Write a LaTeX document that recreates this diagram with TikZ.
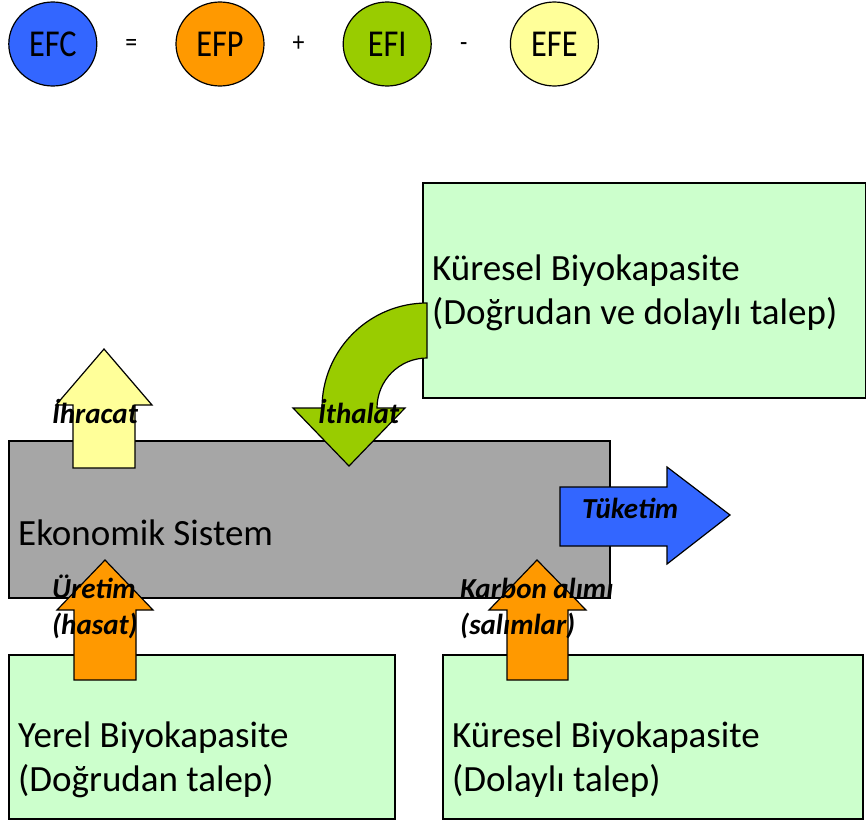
\documentclass[tikz,border=0pt]{standalone}
\usepackage{fontspec}
\setmainfont{Carlito}
\newfontfamily\narrowfont[FakeStretch=0.85]{Carlito}
\usetikzlibrary{shapes.geometric,positioning}
\definecolor{efcblue}{HTML}{3366FF}
\definecolor{efporange}{HTML}{FF9900}
\definecolor{efigreen}{HTML}{99CC00}
\definecolor{efeyellow}{HTML}{FFFF99}
\definecolor{sysgray}{HTML}{A6A6A6}
\definecolor{biogreen}{HTML}{CCFFCC}
\tikzstyle{term} = [
  draw,
  ellipse,
  line width=1.2pt,
  minimum width=88pt,
  minimum height=84pt,
  inner sep=0pt,
  font=\narrowfont\fontsize{38}{40}\selectfont,
]
\tikzstyle{op} = [
  minimum width=78pt,
  inner sep=0pt,
  text height=20pt,
  text depth=6pt,
  font=\narrowfont\fontsize{28}{32}\selectfont,
]
\tikzstyle{area} = [
  draw,
  rectangle,
  line width=1.5pt,
  anchor=north west,
  inner sep=0pt,
]
\tikzstyle{areatext} = [
  anchor=base west,
  align=left,
  inner sep=0pt,
  font=\fontsize{37}{44}\selectfont,
]
\tikzstyle{flow} = [
  draw,
  line width=1.2pt,
  line join=miter,
]
\tikzstyle{flowlabel} = [
  anchor=base west,
  align=left,
  inner sep=0pt,
  font=\fontsize{29}{36}\selectfont\bfseries\itshape,
]

\begin{document}
\begin{tikzpicture}[
    x=1pt,
    y=-1pt,
  ]
  \useasboundingbox (0,0) rectangle (866,822);
  \matrix(eq)[
    ampersand replacement=\&,
    column sep=0pt,
    inner sep=0pt,
    anchor=west,
  ] at (8,44) {
    \node[term, fill=efcblue] (efc){EFC};
    \&
    \node[op] (equals){\hspace*{-10pt}=};
    \&
    \node[term, fill=efporange] (efp){EFP};
    \&
    \node[op] (plus){\hspace*{-10pt}+};
    \&
    \node[term, fill=efigreen] (efi){EFI};
    \&
    \node[op] (minus){\hspace*{-14pt}-};
    \&
    \node[term, fill=efeyellow] (efe){EFE};
    \\
  };

  % areas
  \node[
    area,
    fill=biogreen,
    minimum width=443pt,
    minimum height=215pt,
  ](globalall) at (422,182) {};
  \node[
    area,
    fill=sysgray,
    minimum width=601pt,
    minimum height=157pt,
  ](economy) at (8,440) {};
  \node[
    area,
    fill=biogreen,
    minimum width=386pt,
    minimum height=164pt,
  ](local) at (8,654) {};
  \node[
    area,
    fill=biogreen,
    minimum width=420pt,
    minimum height=164pt,
  ](globalind) at (442,654) {};

  % base of the last line
  \node[areatext] (globalalltext) at (432,324)
    {Küresel Biyokapasite\\(Doğrudan ve dolaylı talep)};
  \node[areatext] (economytext) at (18,545) {Ekonomik Sistem};
  \node[areatext] (localtext) at (18,791)
    {Yerel Biyokapasite\\(Doğrudan talep)};
  \node[areatext] (globalindtext) at (452,791)
    {Küresel Biyokapasite\\(Dolaylı talep)};

  % flows
  \draw[flow, fill=efeyellow] (73,468) -- (73,405) -- (56,405)
    -- (104,349) -- (152,405) -- (135,405) -- (135,468) -- cycle;
  \draw[flow, fill=efigreen] (427,303)
    arc[start angle=270, end angle=180, radius=105]
    -- (293,408) -- (349,466) -- (405,408) -- (377,408)
    arc[start angle=180, end angle=270, radius=50] -- cycle;
  \draw[flow, fill=efcblue] (560,487) -- (667,487) -- (667,467)
    -- (730,515) -- (667,564) -- (667,546) -- (560,546) -- cycle;
  \draw[flow, fill=efporange] (74,680) -- (74,610) -- (57,610)
    -- (105,560) -- (153,610) -- (136,610) -- (136,680) -- cycle;
  \draw[flow, fill=efporange] (507,680) -- (507,610) -- (489,610)
    -- (537,560) -- (586,610) -- (568,610) -- (568,680) -- cycle;

  \node[flowlabel] (export) at (52,423) {İhracat};
  \node[flowlabel] (import) at (318,423) {İthalat};
  \node[flowlabel] (consume) at (582,518) {Tüketim};
  \node[flowlabel] (harvest) at (52,634) {Üretim\\(hasat)};
  \node[flowlabel] (carbon) at (460,634) {Karbon alımı\\(salımlar)};
\end{tikzpicture}
\end{document}
